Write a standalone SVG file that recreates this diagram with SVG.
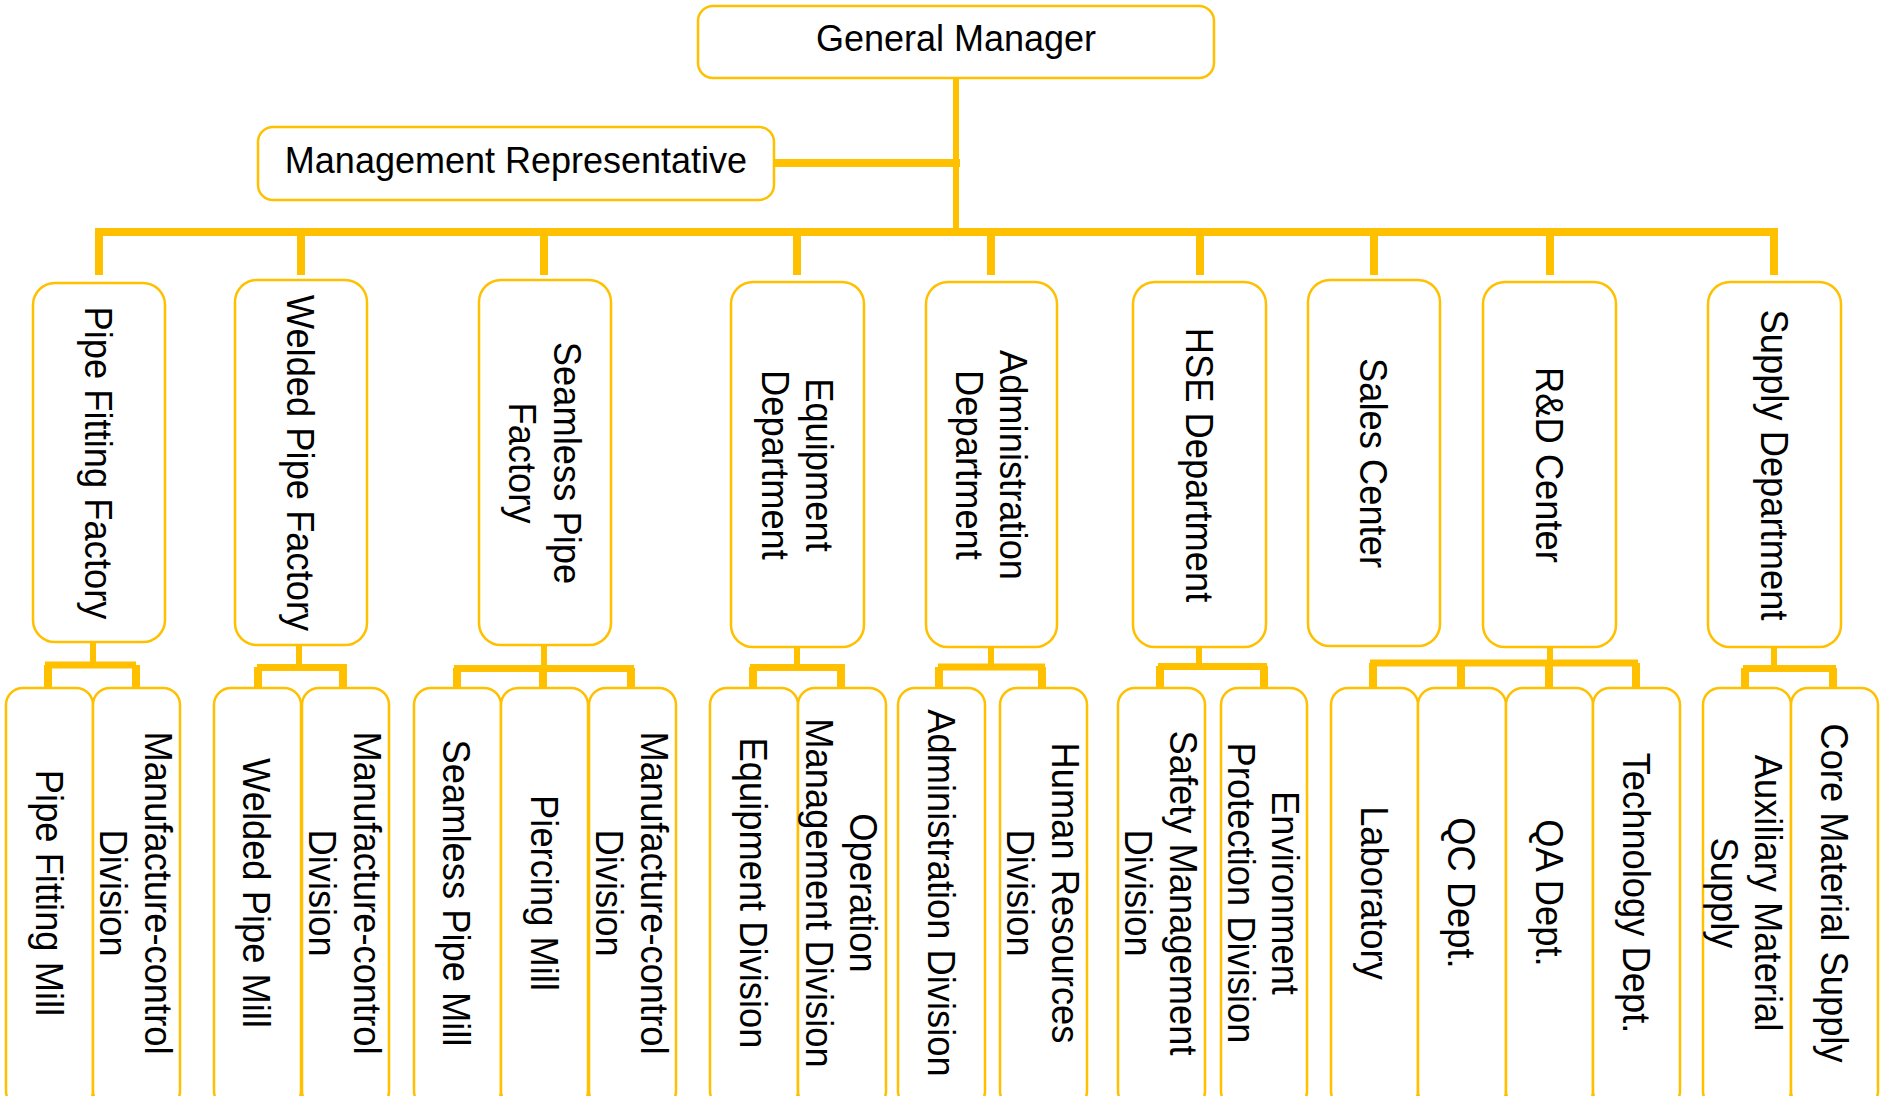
<svg xmlns="http://www.w3.org/2000/svg" width="1881" height="1096" viewBox="0 0 1881 1096">
<style>
.b{fill:#fff;stroke:#FFC000;stroke-width:2.5}
.t{font-family:"Liberation Sans",Arial,sans-serif;font-size:36px;fill:#000;text-anchor:middle}
.r{font-family:"Liberation Sans",Arial,sans-serif;font-size:39.5px;fill:#000;text-anchor:middle}
.c{stroke:#FFC000;fill:none}
.k{stroke-width:8}
.s{stroke-width:6}
.m{stroke-width:7}
</style>
<rect width="1881" height="1096" fill="#fff"/>
<g id="connectors">
<line class="c s" x1="956" y1="78" x2="956" y2="236"/>
<line class="c k" x1="774" y1="163" x2="960" y2="163"/>
<line class="c k" x1="95" y1="232" x2="1778" y2="232"/>
<g class="c k">
<line x1="99" y1="232" x2="99" y2="275"/>
<line x1="301" y1="232" x2="301" y2="275"/>
<line x1="544" y1="232" x2="544" y2="275"/>
<line x1="797" y1="232" x2="797" y2="275"/>
<line x1="991" y1="232" x2="991" y2="275"/>
<line x1="1200" y1="232" x2="1200" y2="275"/>
<line x1="1374" y1="232" x2="1374" y2="275"/>
<line x1="1550" y1="232" x2="1550" y2="275"/>
<line x1="1774" y1="232" x2="1774" y2="275"/>
</g>
<g class="c s">
<line x1="93" y1="642" x2="93" y2="665"/>
<line x1="299" y1="645" x2="299" y2="667"/>
<line x1="544" y1="645" x2="544" y2="668"/>
<line x1="797" y1="647" x2="797" y2="667"/>
<line x1="991" y1="647" x2="991" y2="667"/>
<line x1="1199" y1="647" x2="1199" y2="666"/>
<line x1="1550" y1="647" x2="1550" y2="663"/>
<line x1="1774" y1="647" x2="1774" y2="668"/>
</g>
<g class="c m">
<line x1="45" y1="665" x2="136" y2="665"/>
<line x1="257" y1="667.5" x2="347" y2="667.5"/>
<line x1="454" y1="668.5" x2="634" y2="668.5"/>
<line x1="750" y1="667.5" x2="845" y2="667.5"/>
<line x1="938" y1="667" x2="1045" y2="667"/>
<line x1="1158" y1="666.5" x2="1267" y2="666.5"/>
<line x1="1370" y1="663" x2="1638" y2="663"/>
<line x1="1743" y1="668.5" x2="1836" y2="668.5"/>
</g>
<g class="c k">
<line x1="48" y1="665" x2="48" y2="688"/>
<line x1="136" y1="665" x2="136" y2="688"/>
<line x1="258" y1="667" x2="258" y2="689"/>
<line x1="343" y1="667" x2="343" y2="691"/>
<line x1="457" y1="668" x2="457" y2="688"/>
<line x1="543" y1="668" x2="543" y2="688"/>
<line x1="631" y1="668" x2="631" y2="688"/>
<line x1="753" y1="667" x2="753" y2="688"/>
<line x1="841" y1="667" x2="841" y2="688"/>
<line x1="939" y1="667" x2="939" y2="688"/>
<line x1="1042" y1="667" x2="1042" y2="688"/>
<line x1="1160" y1="666" x2="1160" y2="688"/>
<line x1="1264" y1="666" x2="1264" y2="691"/>
<line x1="1373" y1="663" x2="1373" y2="688"/>
<line x1="1461" y1="663" x2="1461" y2="688"/>
<line x1="1549" y1="663" x2="1549" y2="688"/>
<line x1="1636" y1="663" x2="1636" y2="688"/>
<line x1="1745" y1="668" x2="1745" y2="688"/>
<line x1="1833" y1="668" x2="1833" y2="688"/>
</g>
</g>
<g id="general-manager"><rect class="b" x="698" y="6" width="516" height="72" rx="15"/><text class="t" x="956" y="51">General Manager</text></g>
<g id="management-representative"><rect class="b" x="258" y="127" width="516" height="73" rx="15"/><text class="t" x="516" y="173">Management Representative</text></g>

<g id="pipe-fitting-factory"><rect class="b" x="33" y="283" width="132" height="359" rx="22"/><text class="r" transform="translate(99,463) rotate(90) scale(0.92,1)" y="13.5">Pipe Fitting Factory</text></g>
<g id="welded-pipe-factory"><rect class="b" x="235" y="280" width="132" height="365" rx="22"/><text class="r" transform="translate(301,463) rotate(90) scale(0.92,1)" y="13.5">Welded Pipe Factory</text></g>
<g id="seamless-pipe-factory"><rect class="b" x="479" y="280" width="132" height="365" rx="22"/><text class="r" transform="translate(545,463) rotate(90) scale(0.92,1)"><tspan x="0" y="-9">Seamless Pipe</tspan><tspan x="0" y="36">Factory</tspan></text></g>
<g id="equipment-department"><rect class="b" x="731" y="282" width="133" height="365" rx="22"/><text class="r" transform="translate(797.5,465) rotate(90) scale(0.92,1)"><tspan x="0" y="-9">Equipment</tspan><tspan x="0" y="36">Department</tspan></text></g>
<g id="administration-department"><rect class="b" x="926" y="282" width="131" height="365" rx="22"/><text class="r" transform="translate(991.5,465) rotate(90) scale(0.92,1)"><tspan x="0" y="-9">Administration</tspan><tspan x="0" y="36">Department</tspan></text></g>
<g id="hse-department"><rect class="b" x="1133" y="282" width="133" height="365" rx="22"/><text class="r" transform="translate(1199.5,465) rotate(90) scale(0.92,1)" y="13.5">HSE Department</text></g>
<g id="sales-center"><rect class="b" x="1308" y="280" width="132" height="366" rx="22"/><text class="r" transform="translate(1374,463) rotate(90) scale(0.92,1)" y="13.5">Sales Center</text></g>
<g id="rd-center"><rect class="b" x="1483" y="282" width="133" height="365" rx="22"/><text class="r" transform="translate(1549.5,465) rotate(90) scale(0.92,1)" y="13.5">R&amp;D Center</text></g>
<g id="supply-department"><rect class="b" x="1708" y="282" width="133" height="365" rx="22"/><text class="r" transform="translate(1774.5,465) rotate(90) scale(0.92,1)" y="13.5">Supply Department</text></g>

<g id="pipe-fitting-mill"><rect class="b" x="6" y="688" width="87" height="420" rx="17"/><text class="r" transform="translate(49.5,893) rotate(90) scale(0.92,1)" y="13.5">Pipe Fitting Mill</text></g>
<g id="manufacture-control-1"><rect class="b" x="93" y="688" width="87" height="420" rx="17"/><text class="r" transform="translate(136.5,893) rotate(90) scale(0.92,1)"><tspan x="0" y="-8.5">Manufacture-control</tspan><tspan x="0" y="36.5">Division</tspan></text></g>
<g id="welded-pipe-mill"><rect class="b" x="214" y="688" width="87" height="420" rx="17"/><text class="r" transform="translate(257,893) rotate(90) scale(0.92,1)" y="13.5">Welded Pipe Mill</text></g>
<g id="manufacture-control-2"><rect class="b" x="302" y="688" width="87" height="420" rx="17"/><text class="r" transform="translate(345.5,893) rotate(90) scale(0.92,1)"><tspan x="0" y="-8.5">Manufacture-control</tspan><tspan x="0" y="36.5">Division</tspan></text></g>
<g id="seamless-pipe-mill"><rect class="b" x="414" y="688" width="87" height="420" rx="17"/><text class="r" transform="translate(457,893) rotate(90) scale(0.92,1)" y="13.5">Seamless Pipe Mill</text></g>
<g id="piercing-mill"><rect class="b" x="501" y="688" width="87" height="420" rx="17"/><text class="r" transform="translate(544.5,893) rotate(90) scale(0.92,1)" y="13.5">Piercing Mill</text></g>
<g id="manufacture-control-3"><rect class="b" x="589" y="688" width="87" height="420" rx="17"/><text class="r" transform="translate(632.5,893) rotate(90) scale(0.92,1)"><tspan x="0" y="-8.5">Manufacture-control</tspan><tspan x="0" y="36.5">Division</tspan></text></g>
<g id="equipment-division"><rect class="b" x="710" y="688" width="88" height="420" rx="17"/><text class="r" transform="translate(754,893) rotate(90) scale(0.92,1)" y="13.5">Equipment Division</text></g>
<g id="operation-management-division"><rect class="b" x="798" y="688" width="88" height="420" rx="17"/><text class="r" transform="translate(842,893) rotate(90) scale(0.92,1)"><tspan x="0" y="-8.5">Operation</tspan><tspan x="0" y="36.5">Management Division</tspan></text></g>
<g id="administration-division"><rect class="b" x="898" y="688" width="87" height="420" rx="17"/><text class="r" transform="translate(941.5,893) rotate(90) scale(0.92,1)" y="13.5">Administration Division</text></g>
<g id="human-resources-division"><rect class="b" x="1000" y="688" width="87" height="420" rx="17"/><text class="r" transform="translate(1043.5,893) rotate(90) scale(0.92,1)"><tspan x="0" y="-8.5">Human Resources</tspan><tspan x="0" y="36.5">Division</tspan></text></g>
<g id="safety-management-division"><rect class="b" x="1118" y="688" width="87" height="420" rx="17"/><text class="r" transform="translate(1161.5,893) rotate(90) scale(0.92,1)"><tspan x="0" y="-8.5">Safety Management</tspan><tspan x="0" y="36.5">Division</tspan></text></g>
<g id="environment-protection-division"><rect class="b" x="1221" y="688" width="86" height="420" rx="17"/><text class="r" transform="translate(1264,893) rotate(90) scale(0.92,1)"><tspan x="0" y="-8.5">Environment</tspan><tspan x="0" y="36.5">Protection Division</tspan></text></g>
<g id="laboratory"><rect class="b" x="1331" y="688" width="87" height="420" rx="17"/><text class="r" transform="translate(1374.5,893) rotate(90) scale(0.92,1)" y="13.5">Laboratory</text></g>
<g id="qc-dept"><rect class="b" x="1418" y="688" width="88" height="420" rx="17"/><text class="r" transform="translate(1462,893) rotate(90) scale(0.92,1)" y="13.5">QC Dept.</text></g>
<g id="qa-dept"><rect class="b" x="1506" y="688" width="87" height="420" rx="17"/><text class="r" transform="translate(1549.5,893) rotate(90) scale(0.92,1)" y="13.5">QA Dept.</text></g>
<g id="technology-dept"><rect class="b" x="1593" y="688" width="87" height="420" rx="17"/><text class="r" transform="translate(1636.5,893) rotate(90) scale(0.92,1)" y="13.5">Technology Dept.</text></g>
<g id="auxiliary-material-supply"><rect class="b" x="1703" y="688" width="88" height="420" rx="17"/><text class="r" transform="translate(1747,893) rotate(90) scale(0.92,1)"><tspan x="0" y="-8.5">Auxiliary Material</tspan><tspan x="0" y="36.5">Supply</tspan></text></g>
<g id="core-material-supply"><rect class="b" x="1791" y="688" width="87" height="420" rx="17"/><text class="r" transform="translate(1834.5,893) rotate(90) scale(0.92,1)" y="13.5">Core Material Supply</text></g>
</svg>
